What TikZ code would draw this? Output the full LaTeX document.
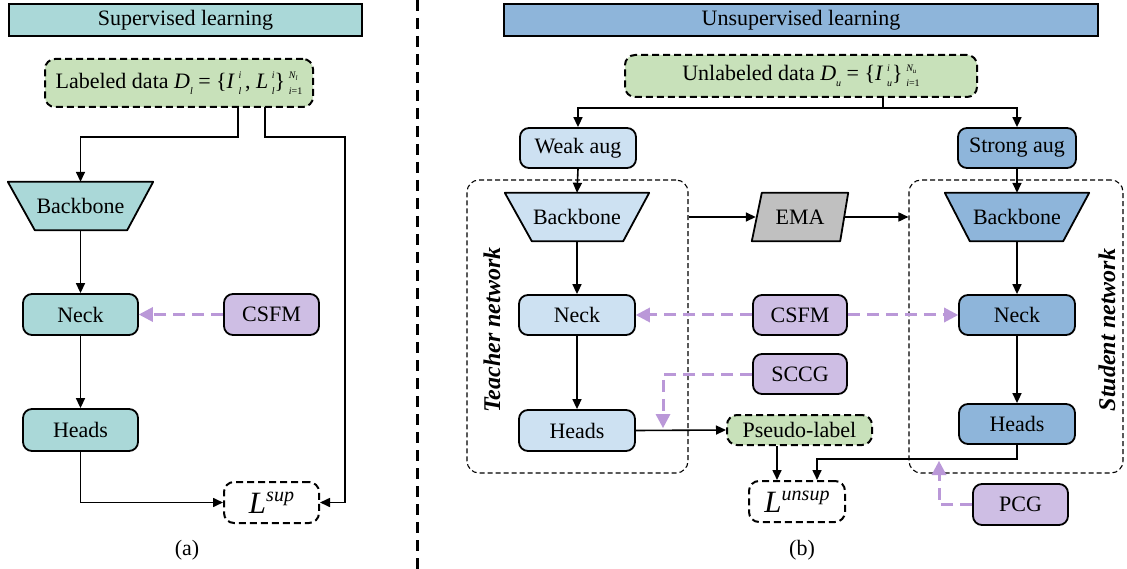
\documentclass[tikz,border=0pt]{standalone}
\usepackage{fontspec}
\setmainfont{Liberation Serif}
\usetikzlibrary{arrows.meta,backgrounds}
\definecolor{cteal}{RGB}{170,216,216}
\definecolor{cgreen}{RGB}{200,225,186}
\definecolor{cpurp}{RGB}{206,190,228}
\definecolor{clblue}{RGB}{205,225,242}
\definecolor{cblue}{RGB}{142,181,218}
\definecolor{cgray}{RGB}{192,192,192}
\definecolor{pline}{RGB}{186,152,216}
\newcommand{\fs}{\fontsize{22}{26}\selectfont}
\newcommand{\smit}{\fontsize{10}{10}\selectfont\itshape}
\newcommand{\mysupsub}[2]{\setbox0\hbox{\smit #1}\setbox2\hbox{\smit #2}%
\ifdim\wd0>\wd2 \rlap{\raisebox{-6pt}{\box2}}\raisebox{9.5pt}{\box0}\else\rlap{\raisebox{9.5pt}{\box0}}\raisebox{-6pt}{\box2}\fi}
\newcommand{\bigL}[1]{{\fontsize{31}{31}\selectfont\itshape L}\raisebox{12pt}{\fontsize{20}{20}\selectfont\itshape #1}}
\begin{document}
\begin{tikzpicture}[x=1pt,y=-1pt,
  base/.style={draw, line width=1.8pt, rounded corners=9pt, inner sep=0pt, font=\fs},
  dbox/.style={draw, line width=2pt, dash pattern=on 7pt off 4pt, rounded corners=10pt, inner sep=0pt, font=\fs},
  shp/.style={inner sep=0pt, font=\fs},
  shpdraw/.style={draw, line width=1.8pt, line join=round},
  hdr/.style={draw, line width=2pt, inner sep=0pt, font=\fs},
  arr/.style={line width=1.6pt, -{Triangle[length=10pt,width=9pt]}},
  plain/.style={line width=1.6pt},
  parr/.style={line width=3pt, draw=pline, dash pattern=on 12pt off 7pt, -{Triangle[length=14pt,width=15pt,line width=0pt]}},
  netbox/.style={draw, line width=1.1pt, dash pattern=on 5pt off 3pt, rounded corners=12pt},
  captext/.style={font=\fs},
  netlbl/.style={font=\fontsize{24}{24}\selectfont\bfseries\itshape, rotate=90}
]
\useasboundingbox (0,0) rectangle (1127,569);

% ---------- left panel ----------
\node[hdr, fill=cteal, minimum width=353, minimum height=32] (hdrL) at (185.5,20) {Supervised learning};
\node[dbox, fill=cgreen, minimum width=268, minimum height=48] (ld) at (179,83)
  {Labeled data \textit{D}\raisebox{-6pt}{\smit l} = \{\textit{I}\,\mysupsub{i}{l}\,, \textit{L}\,\mysupsub{i}{l}\}\,\mysupsub{N\raisebox{-2pt}{\fontsize{7}{7}\selectfont l}}{i\upshape =1}};
\node[shp, minimum width=145, minimum height=48] (bbL) at (80.5,206) {Backbone};
\node[base, fill=cteal, minimum width=115, minimum height=41] (nL) at (80.5,314.5) {Neck};
\node[base, fill=cpurp, minimum width=95, minimum height=41] (csL) at (271.5,314.5) {CSFM};
\node[base, fill=cteal, minimum width=115, minimum height=42] (hL) at (80.5,430) {Heads};
\node[dbox, fill=white, minimum width=95, minimum height=41] (lsup) at (271.5,502.5) {\bigL{sup}};
\node[captext] (capA) at (187,550) {(a)};

\coordinate (ldA) at (238,107);
\coordinate (ldB) at (265,107);
\coordinate (jL) at (0,137);
\coordinate (jR) at (345,137);

% ---------- divider ----------
\draw[line width=3pt, dash pattern=on 11pt off 7pt] (417,0) -- (417,569);

% ---------- right panel ----------
\node[hdr, fill=cblue, minimum width=594, minimum height=32] (hdrR) at (801,20) {Unsupervised learning};
\node[dbox, fill=cgreen, minimum width=352, minimum height=42] (ud) at (801,76)
  {Unlabeled data \textit{D}\raisebox{-6pt}{\smit u} = \{\textit{I}\,\mysupsub{i}{u}\}\,\mysupsub{N\raisebox{-2pt}{\fontsize{7}{7}\selectfont u}}{i\upshape =1}};
\node[base, fill=clblue, minimum width=116, minimum height=40] (weak) at (578,148) {Weak aug};
\node[base, fill=cblue, minimum width=118, minimum height=40] (strong) at (1017,148) {Strong aug};
\node[netbox, minimum width=221, minimum height=293] (tbox) at (577.5,326.5) {};
\node[netbox, minimum width=214, minimum height=293] (sbox) at (1016,326.5) {};
\node[shp, minimum width=144, minimum height=48] (tbb) at (577,217) {Backbone};
\node[shp, minimum width=96, minimum height=48] (ema) at (800,217) {EMA};
\node[shp, minimum width=144, minimum height=48] (sbb) at (1017,217) {Backbone};
\node[base, fill=clblue, minimum width=116, minimum height=40] (tn) at (577,315) {Neck};
\node[base, fill=clblue, minimum width=116, minimum height=41] (th) at (577,430.5) {Heads};
\node[base, fill=cpurp, minimum width=94, minimum height=40] (cs) at (800,315) {CSFM};
\node[base, fill=cpurp, minimum width=94, minimum height=40] (sccg) at (800,374) {SCCG};
\node[base, fill=cblue, minimum width=116, minimum height=40] (sn) at (1017,315) {Neck};
\node[base, fill=cblue, minimum width=116, minimum height=40] (sh) at (1017,424) {Heads};
\node[dbox, fill=cgreen, minimum width=145, minimum height=30] (pl) at (799.5,430) {Pseudo-label};
\node[dbox, fill=white, minimum width=96, minimum height=41] (lu) at (797,501.5) {\bigL{unsup}};
\node[base, fill=cpurp, minimum width=95, minimum height=41] (pcg) at (1020.5,504.5) {PCG};
\node[captext] (capB) at (802,550) {(b)};
\node[netlbl] (tlbl) at (492,330) {Teacher network};
\node[netlbl] (slbl) at (1107,330) {Student network};

\coordinate (uA) at (883,97);
\coordinate (jU) at (0,108);
\coordinate (scT) at (663,428);
\coordinate (pcT) at (939,461);

% ---------- shapes behind text ----------
\begin{scope}[on background layer]
  \draw[shpdraw, fill=cteal] (bbL.north west) -- (bbL.north east) -- ([xshift=-26pt]bbL.south east) -- ([xshift=27pt]bbL.south west) -- cycle;
  \draw[shpdraw, fill=clblue] (tbb.north west) -- (tbb.north east) -- ([xshift=-26pt]tbb.south east) -- ([xshift=27pt]tbb.south west) -- cycle;
  \draw[shpdraw, fill=cblue] (sbb.north west) -- (sbb.north east) -- ([xshift=-26pt]sbb.south east) -- ([xshift=25pt]sbb.south west) -- cycle;
  \draw[shpdraw, fill=cgray] ([xshift=10pt]ema.north west) -- (ema.north east) -- ([xshift=-8pt]ema.south east) -- (ema.south west) -- cycle;
\end{scope}

% ---------- left connectors ----------
\draw[arr] (ldA) -- (ldA |- jL) -| (bbL.north);
\draw[arr] (ldB) -- (ldB |- jR) -- (jR) |- (lsup.east);
\draw[arr] (bbL.south) -- (nL.north);
\draw[arr] (nL.south) -- (hL.north);
\draw[arr] (hL.south) |- (lsup.west);
\draw[parr] (csL.west) -- (nL.east);

% ---------- right connectors ----------
\draw[plain] (uA) -- (uA |- jU);
\draw[arr] (uA |- jU) -| (weak.north);
\draw[arr] (uA |- jU) -| (strong.north);
\draw[arr] (weak.south) -- (tbb.north);
\draw[arr] (strong.south) -- (sbb.north);
\draw[arr] (tbb.south) -- (tn.north);
\draw[arr] (tn.south) -- (th.north);
\draw[arr] (sbb.south) -- (sn.north);
\draw[arr] (sn.south) -- (sh.north);
\draw[arr] (tbox.east |- ema.west) -- ([xshift=4pt]ema.west);
\draw[arr] ([xshift=-4pt]ema.east) -- (sbox.west |- ema.east);
\draw[parr] (cs.west) -- (tn.east);
\draw[parr] (cs.east) -- (sn.west);
\draw[parr] (sccg.west) -| (scT);
\draw[arr] (th.east) -- (pl.west);
\draw[arr] ([xshift=-20pt]lu.north |- pl.south) -- ([xshift=-20pt]lu.north);
\draw[arr] (sh.south) -- ++(0,14) -| ([xshift=20pt]lu.north);
\draw[parr] (pcg.west) -| (pcT);
\end{tikzpicture}
\end{document}
